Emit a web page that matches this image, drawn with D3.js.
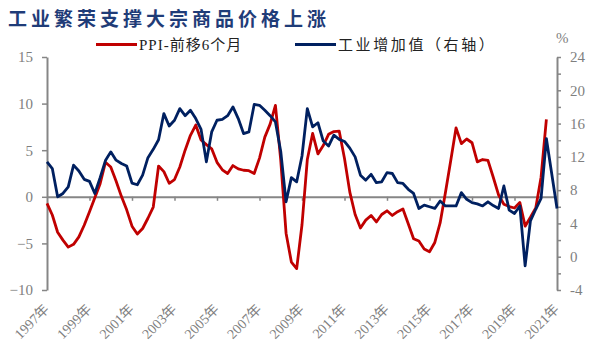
<!DOCTYPE html>
<html>
<head>
<meta charset="utf-8">
<script src="https://cdn.jsdelivr.net/npm/d3@7"></script>
<style>
  body { margin: 0; background: #fff; }
  svg { display: block; }
  .tick text { font-family: "Liberation Serif", "Noto Sans CJK SC", serif; fill: #7f7f7f; }
</style>
</head>
<body>
<div id="chart"></div>
<script>
// quarterly points, 1997Q1 .. 2021Q1 (+ two more quarters for 工业增加值)
const years = d3.range(1997, 2022, 2).map(y => y + '年');

const ppiLead = [
  -0.7, -1.95, -3.8, -4.65, -5.4, -5.1, -4.3, -3.05, -1.6, -0.1,
  1.4, 3.7, 3.2, 1.7, 0.05, -1.4, -3.15, -4.0, -3.4, -2.3,
  -1.1, 3.3, 2.7, 1.45, 1.85, 3.2, 5.0, 6.6, 7.7, 6.1,
  5.6, 5.15, 3.7, 2.9, 2.5, 3.35, 3.0, 2.85, 2.8, 2.5,
  4.15, 6.4, 7.8, 9.8, 3.9, -3.9, -7.0, -7.7, -3.0, 4.0,
  6.8, 4.6, 5.5, 6.7, 7.0, 7.05, 4.1, 0.5, -1.9, -3.35,
  -2.5, -2.0, -2.7, -1.9, -1.5, -2.0, -1.6, -1.3, -2.9, -4.5,
  -4.75, -5.6, -5.9, -4.9, -2.8, 0.45, 3.9, 7.4, 5.7, 6.2,
  5.8, 3.75, 4.0, 3.9, 2.1, 0.2, -0.8, -1.05, -1.2, -0.6,
  -3.15, -2.2, -1.2, 2.1, 8.3
];

const indValueAdded = [
  11.4, 10.6, 7.2, 7.6, 8.4, 11.0, 10.3, 9.3, 9.05, 7.6,
  9.5, 11.55, 12.6, 11.6, 11.2, 10.9, 8.85, 8.65, 9.8, 11.9,
  12.9, 14.05, 17.2, 15.7, 16.4, 17.8, 16.95, 17.6, 16.6, 15.3,
  11.4, 15.0, 16.4, 16.5, 16.95, 18.0, 16.6, 14.8, 15.0, 18.3,
  18.2, 17.6, 16.95, 16.2, 12.65, 6.6, 9.5, 9.0, 12.1, 17.8,
  15.6, 16.1, 13.9, 13.3, 14.6, 14.1, 13.85, 13.05, 12.0, 9.8,
  9.2, 9.9, 8.9, 9.0, 10.1, 10.0, 8.9, 8.8, 8.1, 7.6,
  5.8, 6.2, 6.0, 5.8, 6.7, 6.1, 6.1, 6.1, 7.7, 6.9,
  6.5, 6.35, 6.1, 6.6, 6.15, 5.8, 8.5, 5.6, 5.2, 6.1,
  -1.1, 4.3, 5.7, 7.0, 14.2, 10.0, 5.8
];

const leftTicks = [-10, -5, 0, 5, 10, 15];
const rightTicks = d3.range(-4, 25, 2);

const W = 591, H = 354;
const svg = d3.select('#chart').append('svg').attr('width', W).attr('height', H);

const x = d3.scaleLinear().domain([0, 96]).range([47, 557]);
const yL = d3.scaleLinear().domain([-10, 15]).range([290, 57]);
const yR = d3.scaleLinear().domain([-4, 24]).range([290, 57]);

// title
svg.append('text')
  .attr('x', 8).attr('y', 26)
  .attr('font-family', '"Noto Sans CJK SC", sans-serif')
  .attr('font-weight', 'bold').attr('font-size', 19)
  .attr('letter-spacing', 4)
  .attr('fill', '#1f3c78')
  .text('工业繁荣支撑大宗商品价格上涨');

// legend
const legend = [
  { label: 'PPI-前移6个月', color: '#c00000', x: 96, sp: 1 },
  { label: '工业增加值（右轴）', color: '#002060', x: 295, sp: 2.6 }
];
legend.forEach(d => {
  svg.append('line')
    .attr('x1', d.x).attr('x2', d.x + 41).attr('y1', 44.5).attr('y2', 44.5)
    .attr('stroke', d.color).attr('stroke-width', 3);
  svg.append('text')
    .attr('x', d.x + 43).attr('y', 50)
    .attr('font-family', '"Liberation Serif", "Noto Sans CJK SC", serif')
    .attr('font-size', 15).attr('fill', '#222')
    .attr('letter-spacing', d.sp)
    .text(d.label);
});

svg.append('text')
  .attr('x', 556).attr('y', 43)
  .attr('font-family', '"Liberation Serif", serif')
  .attr('font-size', 15).attr('fill', '#7f7f7f')
  .text('%');

// axes
const axisColor = '#868686';

const gL = svg.append('g').attr('transform', 'translate(47,0)')
  .call(d3.axisLeft(yL).tickValues(leftTicks).tickSize(5).tickSizeOuter(0).tickPadding(9));
const gR = svg.append('g').attr('transform', 'translate(557,0)')
  .call(d3.axisRight(yR).tickValues(rightTicks).tickSize(4).tickSizeOuter(0).tickPadding(9)
    .tickFormat(d => d % 4 === 0 ? d : ''));
const gX = svg.append('g').attr('transform', `translate(0,${yL(0)})`)
  .call(d3.axisBottom(x).tickValues(d3.range(8, 96, 8)).tickSize(4).tickSizeOuter(0).tickFormat(''));

[gL, gR, gX].forEach(g => {
  g.select('.domain').attr('stroke', axisColor).attr('stroke-width', 2);
  g.selectAll('.tick line').attr('stroke', axisColor).attr('stroke-width', 1.5);
  g.selectAll('.tick text').attr('font-size', 15);
});

// year labels, rotated
svg.append('g').selectAll('text')
  .data(years)
  .join('text')
  .attr('transform', (d, i) => `translate(${x(i * 8) + 3},${310}) rotate(-45)`)
  .attr('text-anchor', 'end')
  .attr('font-family', '"Liberation Serif", "Noto Sans CJK SC", serif')
  .attr('font-size', 14).attr('fill', '#7f7f7f')
  .text(d => d);

// series
const lineL = d3.line().x((d, i) => x(i)).y(d => yL(d));
const lineR = d3.line().x((d, i) => x(i)).y(d => yR(d));

svg.append('path').datum(ppiLead)
  .attr('fill', 'none').attr('stroke', '#c00000')
  .attr('stroke-width', 2.8).attr('stroke-linejoin', 'round')
  .attr('d', lineL);

svg.append('path').datum(indValueAdded)
  .attr('fill', 'none').attr('stroke', '#002060')
  .attr('stroke-width', 2.8).attr('stroke-linejoin', 'round')
  .attr('d', lineR);
</script>
</body>
</html>
